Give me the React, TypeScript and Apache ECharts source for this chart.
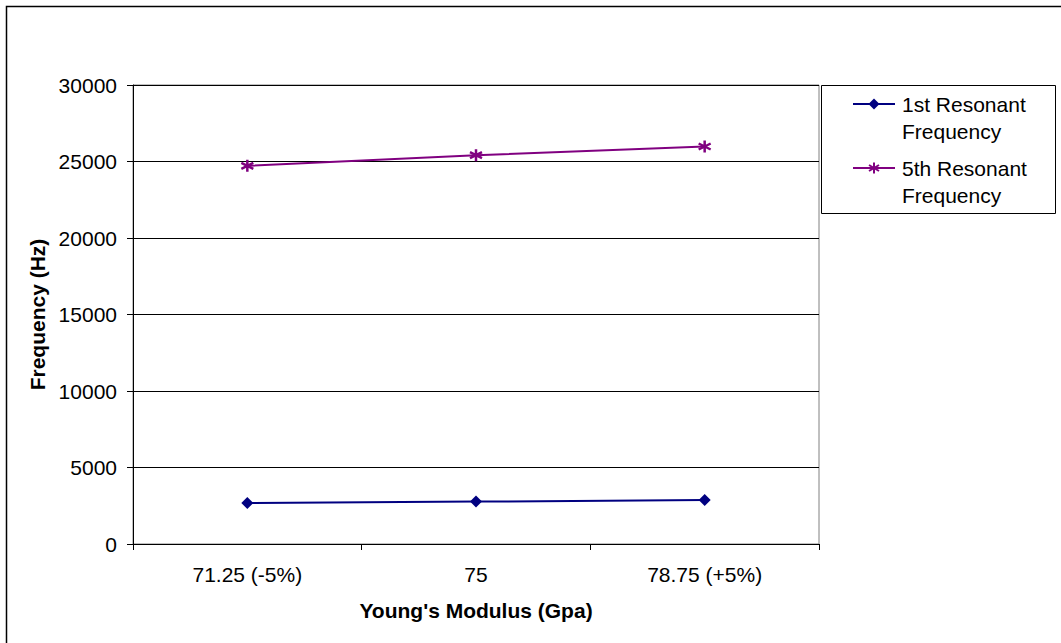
import React, { useEffect, useRef } from "react";
import * as echarts from "echarts";

const categories = ["71.25 (-5%)", "75", "78.75 (+5%)"];
const seriesNames = ["1st Resonant\nFrequency", "5th Resonant\nFrequency"];
const firstResonant = [2680, 2770, 2870];
const fifthResonant = [24720, 25410, 25980];
const yTicks = { min: 0, max: 30000, interval: 5000 };
const xTitle = "Young's Modulus (Gpa)";
const yTitle = "Frequency (Hz)";

const FONT = "'Liberation Sans', Arial, sans-serif";
const NAVY = "#000080";
const PURPLE = "#800080";
const ASTERISK = "path://M5,0L5,10M0.7,2.5L9.3,7.5M0.7,7.5L9.3,2.5";

export default function App() {
  const ref = useRef<HTMLDivElement>(null);
  useEffect(() => {
    if (!ref.current) return;
    const chart = echarts.init(ref.current, null, { renderer: "svg" });
    const legendItem = (i: number, y: number) => {
      const color = i === 0 ? NAVY : PURPLE;
      const children: any[] = [
        { type: "line", shape: { x1: 853, y1: y, x2: 895, y2: y }, style: { stroke: color, lineWidth: 2 } },
      ];
      if (i === 0) {
        children.push({
          type: "polygon",
          shape: { points: [[874, y - 5.5], [879.5, y], [874, y + 5.5], [868.5, y]] },
          style: { fill: color },
        });
      } else {
        children.push(
          { type: "line", shape: { x1: 874, y1: y - 5.5, x2: 874, y2: y + 5.5 }, style: { stroke: color, lineWidth: 2 } },
          { type: "line", shape: { x1: 869, y1: y - 3, x2: 879, y2: y + 3 }, style: { stroke: color, lineWidth: 2 } },
          { type: "line", shape: { x1: 869, y1: y + 3, x2: 879, y2: y - 3 }, style: { stroke: color, lineWidth: 2 } }
        );
      }
      children.push({
        type: "text",
        x: 902,
        y: y - 13.5,
        style: {
          text: seriesNames[i],
          font: `21px ${FONT}`,
          fill: "#000",
          lineHeight: 27,
          textVerticalAlign: "top",
        },
      });
      return { type: "group", children };
    };
    chart.setOption({
      animation: false,
      backgroundColor: "#fff",
      textStyle: { fontFamily: FONT },
      grid: {
        left: 133,
        top: 85,
        right: 242,
        bottom: 99,
        show: true,
        borderColor: "#808080",
        borderWidth: 1,
        backgroundColor: "transparent",
      },
      xAxis: {
        type: "category",
        data: categories,
        boundaryGap: true,
        axisLine: { lineStyle: { color: "#000", width: 1 } },
        axisTick: { show: true, length: 6, alignWithLabel: false, lineStyle: { color: "#000" } },
        axisLabel: { color: "#000", fontSize: 21, fontFamily: FONT, margin: 20 },
        name: xTitle,
        nameLocation: "middle",
        nameGap: 56,
        nameTextStyle: { color: "#000", fontSize: 21, fontWeight: "bold", fontFamily: FONT },
      },
      yAxis: {
        type: "value",
        min: yTicks.min,
        max: yTicks.max,
        interval: yTicks.interval,
        axisLine: { show: true, lineStyle: { color: "#000", width: 1 } },
        axisTick: { show: true, length: 6, lineStyle: { color: "#000" } },
        axisLabel: {
          color: "#000",
          fontSize: 21,
          fontFamily: FONT,
          margin: 16,
          formatter: (v: number) => String(v),
        },
        splitLine: { show: true, lineStyle: { color: "#000", width: 1 } },
        name: yTitle,
        nameLocation: "middle",
        nameGap: 81,
        nameTextStyle: { color: "#000", fontSize: 21, fontWeight: "bold", fontFamily: FONT },
      },
      series: [
        {
          name: seriesNames[0],
          type: "line",
          data: firstResonant,
          symbol: "diamond",
          symbolSize: 12,
          lineStyle: { color: NAVY, width: 2 },
          itemStyle: { color: NAVY },
        },
        {
          name: seriesNames[1],
          type: "line",
          data: fifthResonant,
          symbol: ASTERISK,
          symbolSize: 12,
          lineStyle: { color: PURPLE, width: 2 },
          itemStyle: { color: PURPLE, borderColor: PURPLE, borderWidth: 2.5 },
        },
      ],
      graphic: [
        {
          type: "rect",
          shape: { x: 6.5, y: 6.5, width: 1100, height: 700 },
          style: { fill: "none", stroke: "#000", lineWidth: 1.5 },
          silent: true,
        },
        {
          type: "rect",
          shape: { x: 821.5, y: 85.5, width: 234, height: 128 },
          style: { fill: "#fff", stroke: "#000", lineWidth: 1 },
        },
        legendItem(0, 104),
        legendItem(1, 168),
      ],
    });
    return () => chart.dispose();
  }, []);
  return (
    <div
      ref={ref}
      style={{ position: "fixed", left: 0, top: 0, width: 1061, height: 643 }}
    />
  );
}
